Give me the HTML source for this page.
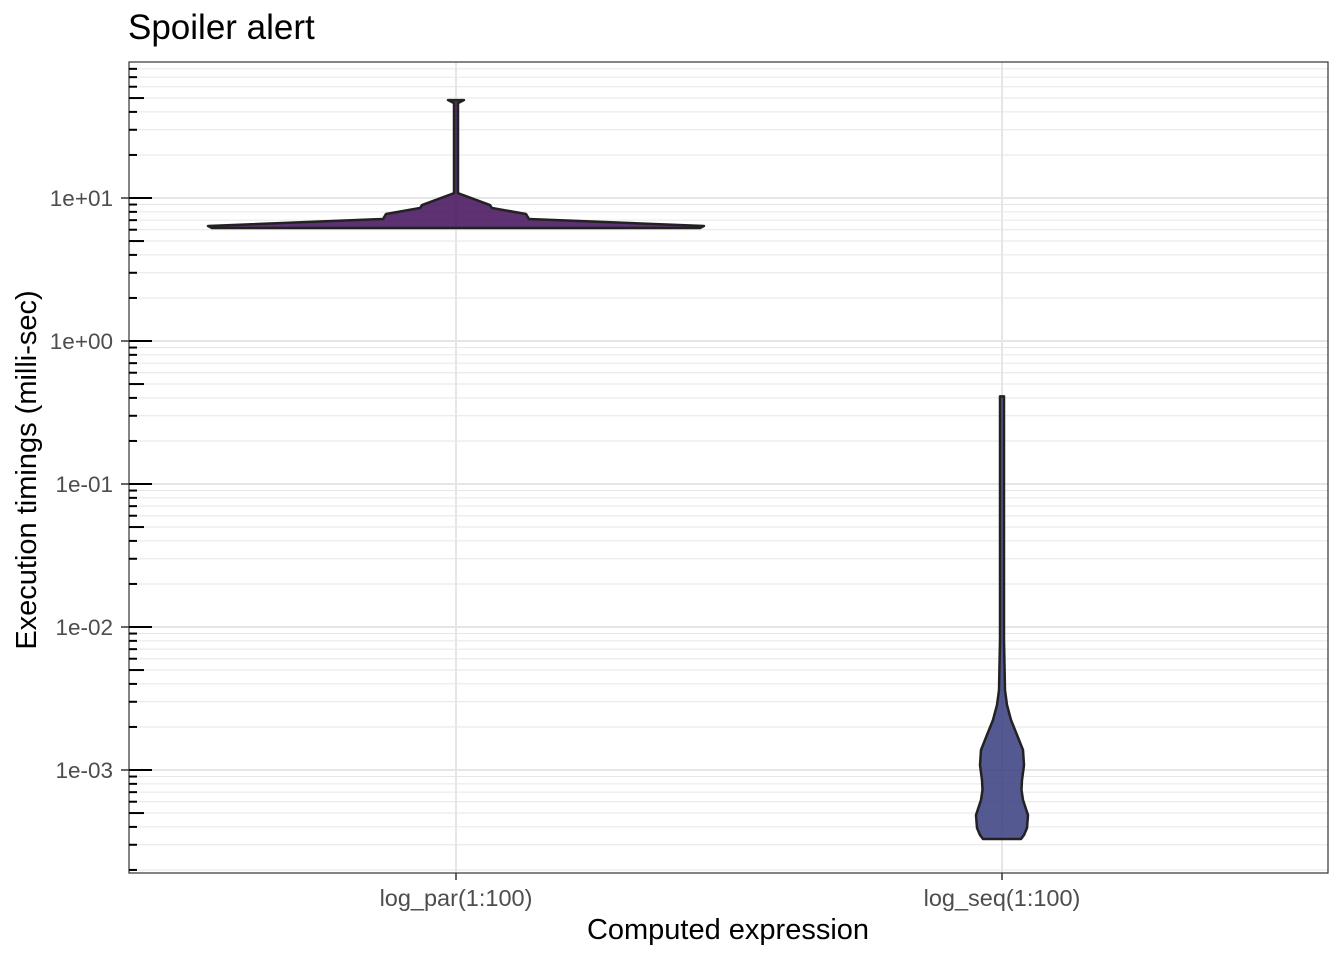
<!DOCTYPE html>
<html><head><meta charset="utf-8"><style>
body{margin:0;background:#fff;}
svg{display:block;font-family:"Liberation Sans",Arial,sans-serif;}
</style></head><body>
<svg id="chart" width="1344" height="960" viewBox="0 0 1344 960">
<text x="128" y="39" font-size="35" fill="#000">Spoiler alert</text>
<g id="grid"></g>
<g id="violins"></g>
<rect x="129" y="62" width="1199" height="811" fill="none" stroke="#333" stroke-width="1.2"/>
<g id="axes"></g>
<text x="728" y="939" font-size="29" text-anchor="middle" fill="#000">Computed expression</text>
<text transform="translate(36,470) rotate(-90)" font-size="29" text-anchor="middle" fill="#000">Execution timings (milli-sec)</text>
</svg>
<script>
const categories = ["log_par(1:100)", "log_seq(1:100)"];
const decadeTicks = [10, 1, 0.1, 0.01, 0.001];
const decadeLabels = ["1e+01", "1e+00", "1e-01", "1e-02", "1e-03"];
const parValues = [48.4, 46.1, 10.8, 8.93, 8.51, 7.73, 7.13, 6.37, 6.17];
const parWidths = [8, 2, 2, 34, 36, 70, 73, 248, 244];
const seqValues = [0.41, 0.0081, 0.00362, 0.00285, 0.00224, 0.00176, 0.00138, 0.00108, 0.000851, 0.000725, 0.000617, 0.000484, 0.000393, 0.000351, 0.000329];
const seqWidths = [2, 2, 3, 5, 9, 15, 21, 22, 20, 19.5, 21, 26, 25, 22, 19];

const NS = "http://www.w3.org/2000/svg";
const L = 129, R = 1328, T = 62, B = 873;
function y(v){ return 198 - (Math.log10(v) - 1) * 143; }
function x(i){ return 456 + i * 546; }
function mk(tag, attrs, parent){ const e = document.createElementNS(NS, tag); for (const k in attrs) e.setAttribute(k, attrs[k]); parent.appendChild(e); return e; }

const grid = document.getElementById("grid");
const axes = document.getElementById("axes");
for (let d = -4; d <= 2; d++) {
  for (let m = 1; m <= 9; m++) {
    const v = m * Math.pow(10, d);
    const py = y(v);
    if (py < T || py > B) continue;
    const g = mk("line", {x1: L, x2: R, y1: py, y2: py, stroke: "#e6e6e6", "stroke-width": m === 1 ? 2 : 1}, grid);
    
    
    const len = m === 1 ? 23 : (m === 5 ? 15 : 8);
    const t = mk("line", {x1: L, x2: L + len, y1: py, y2: py, stroke: "#000", "stroke-width": 2}, axes);
    
    
  }
}
categories.forEach((c, i) => {
  const g = mk("line", {x1: x(i), x2: x(i), y1: T, y2: B, stroke: "#e6e6e6", "stroke-width": 2}, grid);
  
  
  const t = mk("line", {x1: x(i), x2: x(i), y1: B, y2: B + 7, stroke: "#333", "stroke-width": 1.5}, axes);
  
  
  const lb = mk("text", {x: x(i), y: 906, "font-size": 23.5, fill: "#4d4d4d", "text-anchor": "middle"}, axes);
  lb.textContent = c;
  
  
});
decadeTicks.forEach((v, i) => {
  const t = mk("line", {x1: L - 8, x2: L, y1: y(v), y2: y(v), stroke: "#333", "stroke-width": 1.5}, axes);
  
  
  const lb = mk("text", {x: 113, y: y(v) + 8, "font-size": 22.5, fill: "#4d4d4d", "text-anchor": "end"}, axes);
  lb.textContent = decadeLabels[i];
  
  
});

function violin(vals, widths, i, fill, name){
  const cx = x(i);
  let right = vals.map((v, k) => (cx + widths[k]) + "," + y(v));
  let left = vals.map((v, k) => (cx - widths[k]) + "," + y(v)).reverse();
  const p = mk("polygon", {points: right.concat(left).join(" "), fill: fill, stroke: "#222", "stroke-width": 2.5, "stroke-linejoin": "round"}, document.getElementById("violins"));
  
  
}
violin(parValues, parWidths, 0, "rgba(72,20,94,0.88)", "violin-log-par");
violin(seqValues, seqWidths, 1, "rgba(62,66,130,0.88)", "violin-log-seq");
</script>
</body></html>
